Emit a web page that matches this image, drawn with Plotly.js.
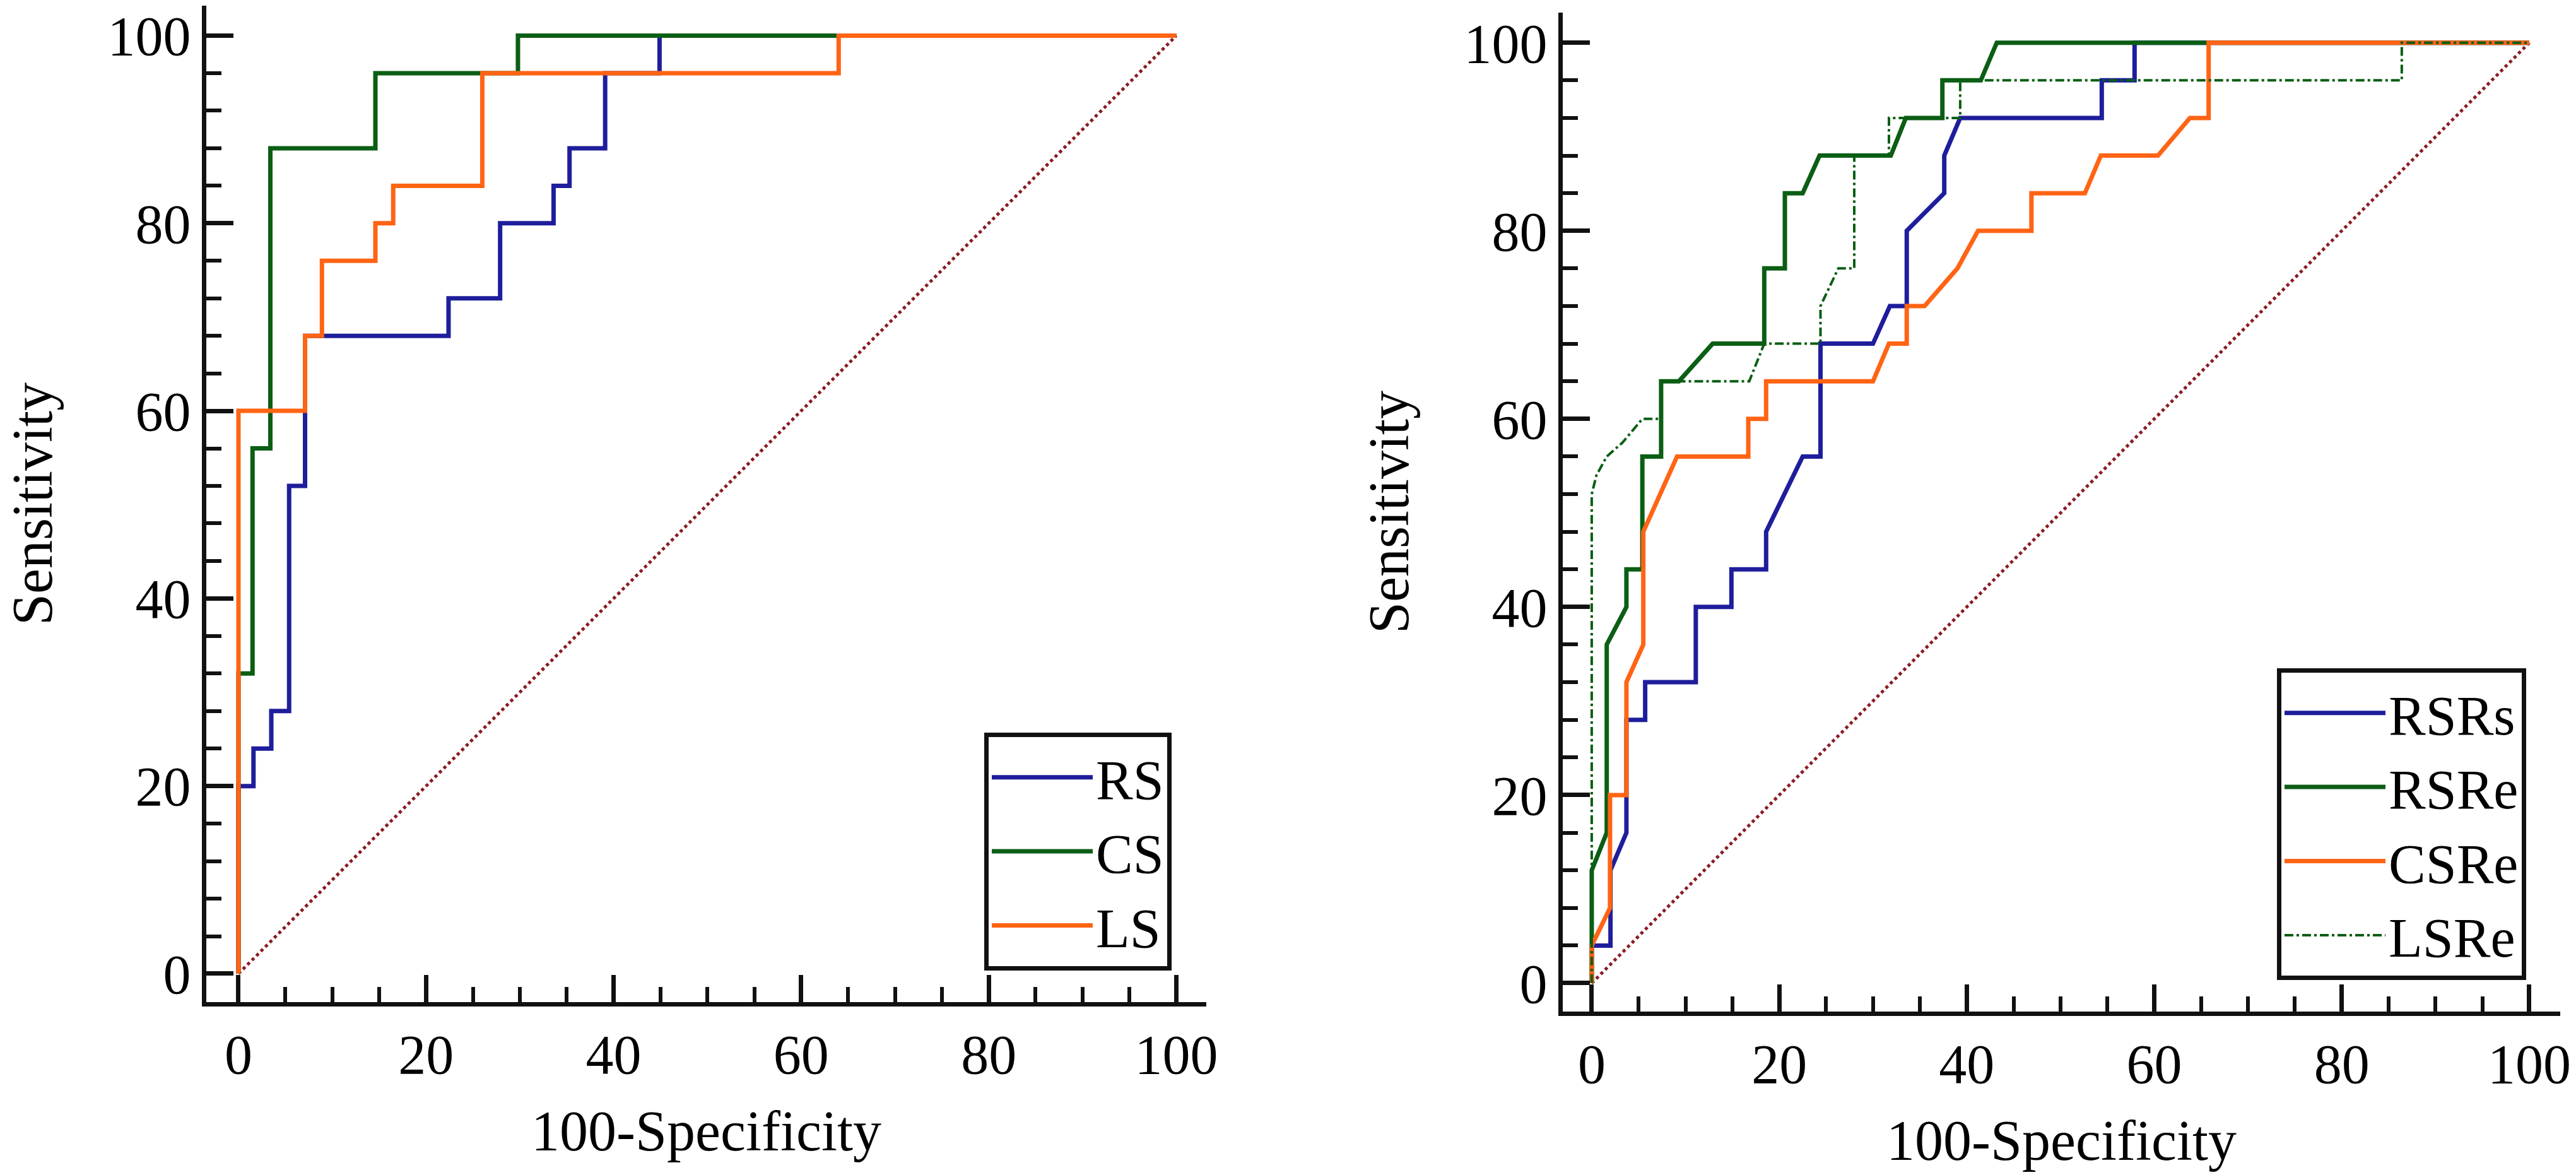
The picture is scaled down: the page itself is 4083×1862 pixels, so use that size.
<!DOCTYPE html>
<html>
<head>
<meta charset="utf-8">
<script src="https://cdn.plot.ly/plotly-3.0.1.min.js"></script>
<style>
  html, body { margin: 0; padding: 0; background: #ffffff; }
  #roc { width: 4083px; height: 1862px; }
</style>
</head>
<body>
<div id="roc"></div>
<script>
// left panel: RS, CS, LS (100-specificity vs sensitivity)
var rsX = [0, 0, 1.6, 1.6, 3.5, 3.5, 5.4, 5.4, 7.1, 7.1, 22.4, 22.4, 27.9, 27.9, 33.6, 33.6, 35.3, 35.3, 39.1, 39.1, 44.9, 44.9, 100];
var rsY = [0, 20, 20, 24, 24, 28, 28, 52, 52, 68, 68, 72, 72, 80, 80, 84, 84, 88, 88, 96, 96, 100, 100];
var csX = [0, 0, 1.5, 1.5, 3.4, 3.4, 14.6, 14.6, 29.8, 29.8, 100];
var csY = [0, 32, 32, 56, 56, 88, 88, 96, 96, 100, 100];
var lsX = [0, 0, 7.1, 7.1, 8.9, 8.9, 14.6, 14.6, 16.5, 16.5, 26.0, 26.0, 64, 64, 100];
var lsY = [0, 60, 60, 68, 68, 76, 76, 80, 80, 84, 84, 96, 96, 100, 100];

// right panel: RSRs, RSRe, CSRe, LSRe
var rsrsX = [0, 0, 2, 2, 3.7, 3.7, 5.7, 5.7, 11.1, 11.1, 14.9, 14.9, 18.6, 18.6, 22.5, 24.4, 24.4, 30, 31.8, 33.6, 33.6, 37.6, 37.6, 39.3, 54.4, 54.4, 57.9, 57.9, 100];
var rsrsY = [0, 4, 4, 12, 16, 28, 28, 32, 32, 40, 40, 44, 44, 48, 56, 56, 68, 68, 72, 72, 80, 84, 88, 92, 92, 96, 96, 100, 100];
var rsreX = [0, 0, 1.6, 1.6, 3.7, 3.7, 5.4, 5.4, 7.4, 7.4, 9.3, 12.9, 18.4, 18.4, 20.6, 20.6, 22.5, 24.3, 31.9, 33.5, 37.4, 37.4, 41.5, 43.2, 100];
var rsreY = [0, 12, 16, 36, 40, 44, 44, 56, 56, 64, 64, 68, 68, 76, 76, 84, 84, 88, 88, 92, 92, 96, 96, 100, 100];
var csreX = [0, 0, 1.95, 1.95, 3.7, 3.7, 5.5, 5.5, 9.1, 16.7, 16.7, 18.6, 18.6, 30, 31.7, 33.6, 33.6, 35.5, 39, 41.2, 46.9, 46.9, 52.6, 54.3, 60.4, 63.8, 65.8, 65.8, 100];
var csreY = [0, 4, 8, 20, 20, 32, 36, 48, 56, 56, 60, 60, 64, 64, 68, 68, 72, 72, 76, 80, 80, 84, 84, 88, 88, 92, 92, 100, 100];
var lsreX = [0, 0, 0.5, 1.6, 3.3, 5.4, 7.4, 7.4, 16.8, 18.4, 24.4, 24.4, 26.3, 28, 28, 31.7, 31.7, 39.3, 39.3, 86.4, 86.4, 100];
var lsreY = [0, 52, 54, 56, 57.5, 60, 60, 64, 64, 68, 68, 72, 76, 76, 88, 88, 92, 92, 96, 96, 100, 100];

// reference line
var refX = [0, 100];
var refY = [0, 100];

var W = 4083, H = 1862;
var serif = "Liberation Serif, Times New Roman, serif";
var blue = "#1e1e9c", green = "#0b5e14", orange = "#ff6414", maroon = "#8b1c24";

function line_trace(x, y, name, color, xa, ya, lg) {
	return {
		type: "scatter", mode: "lines", x: x, y: y, name: name,
		xaxis: xa, yaxis: ya, legend: lg,
		line: {color: color, width: 7, shape: "linear"},
		hoverinfo: "skip"
	};
}

function diag_trace(xa, ya) {
	return {
		type: "scatter", mode: "lines", x: refX, y: refY,
		xaxis: xa, yaxis: ya, showlegend: false,
		line: {color: maroon, width: 5, dash: "5px,5px"},
		hoverinfo: "skip"
	};
}

var traces = [
	diag_trace("x", "y"),
	line_trace(rsX, rsY, "RS", blue, "x", "y", "legend"),
	line_trace(csX, csY, "CS", green, "x", "y", "legend"),
	line_trace(lsX, lsY, "LS", orange, "x", "y", "legend"),
	diag_trace("x2", "y2"),
	line_trace(rsrsX, rsrsY, "RSRs", blue, "x2", "y2", "legend2"),
	line_trace(rsreX, rsreY, "RSRe", green, "x2", "y2", "legend2"),
	line_trace(csreX, csreY, "CSRe", orange, "x2", "y2", "legend2")
];
var lsre = line_trace(lsreX, lsreY, "LSRe", green, "x2", "y2", "legend2");
lsre.line.width = 4;
lsre.line.dash = "14px,5px,4px,5px";
traces.push(lsre);

// axis helper, pixel positions turned into paper fractions
function axis_opt(range, left, right, major, minor, title, anchor, standoff) {
	return {
		range: range,
		domain: [left, right],
		anchor: anchor,
		showline: true, linewidth: 7, linecolor: "#111111",
		zeroline: false, showgrid: false,
		ticks: "inside", ticklen: 43, tickwidth: 7, tickcolor: "#111111",
		tick0: 0, dtick: major,
		minor: {ticks: "inside", ticklen: 24, tickwidth: 6, tickcolor: "#111111", tick0: 0, dtick: minor, showgrid: false},
		tickfont: {family: serif, size: 88, color: "#000000"},
		title: {text: title, font: {family: serif, size: 90, color: "#000000"}, standoff: standoff},
		fixedrange: true
	};
}

var legend_font = {family: serif, size: 88, color: "#000000"};

var layout = {
	width: W, height: H,
	margin: {l: 0, r: 0, t: 0, b: 0},
	paper_bgcolor: "#ffffff", plot_bgcolor: "#ffffff",
	xaxis: axis_opt([-3.43, 103.2], 327 / W, 1912 / W, 20, 5, "100-Specificity", "y", 44),
	yaxis: axis_opt([-3.03, 103.2], 1 - 1588 / H, 1 - 9 / H, 20, 4, "Sensitivity", "x", 60),
	xaxis2: axis_opt([-3.09, 103.3], 2477 / W, 4058 / W, 20, 5, "100-Specificity", "y2", 44),
	yaxis2: axis_opt([-3.02, 103.2], 1 - 1603 / H, 1 - 20 / H, 20, 4, "Sensitivity", "x2", 60),
	legend: {
		x: 1857 / W, xanchor: "right", y: 1 - 1538 / H, yanchor: "bottom",
		bgcolor: "#ffffff", bordercolor: "#111111", borderwidth: 7,
		font: legend_font, itemwidth: 160, entrywidth: 330, entrywidthmode: "pixels", tracegroupgap: 0
	},
	legend2: {
		x: 4004 / W, xanchor: "right", y: 1 - 1553 / H, yanchor: "bottom",
		bgcolor: "#ffffff", bordercolor: "#111111", borderwidth: 7,
		font: legend_font, itemwidth: 160, entrywidth: 430, entrywidthmode: "pixels", tracegroupgap: 0
	},
	showlegend: true
};

Plotly.newPlot("roc", traces, layout, {displayModeBar: false, staticPlot: true});
</script>
</body>
</html>
